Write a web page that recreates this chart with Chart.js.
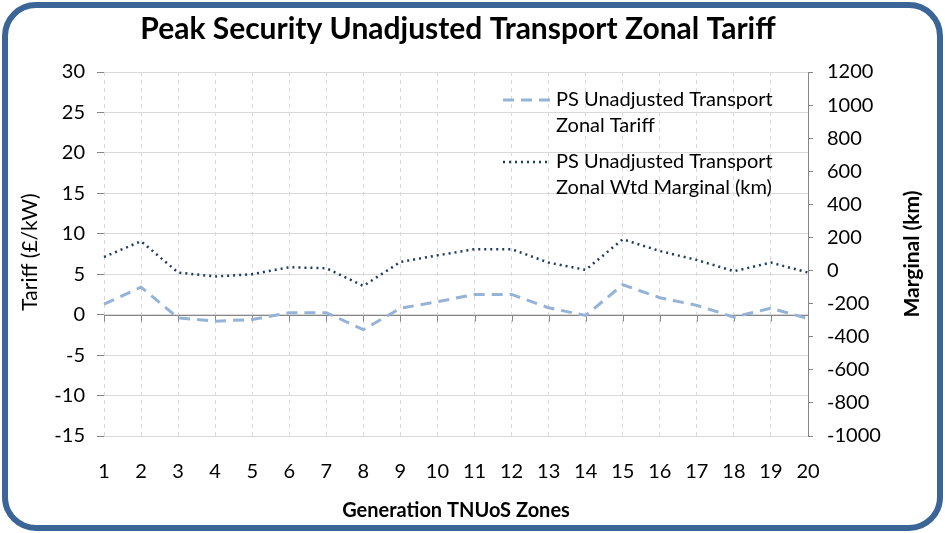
<!DOCTYPE html>
<html>
<head>
<meta charset="utf-8">
<script src="https://cdn.jsdelivr.net/npm/chart.js@4"></script>
<style>
  html, body { margin: 0; padding: 0; background: #fff; }
  #wrap { position: relative; width: 945px; height: 533px; }
  #frame {
    position: absolute; left: 2px; top: 2px; width: 929px; height: 517px;
    border: 6px solid #3A6596; border-radius: 34px; pointer-events: none;
  }
</style>
</head>
<body>
<div id="wrap">
  <canvas id="zonalChart" width="945" height="533"></canvas>
  <div id="frame"></div>
</div>
<script>
const zones = ['1','2','3','4','5','6','7','8','9','10','11','12','13','14','15','16','17','18','19','20'];
const tariffValues = [1.3, 3.4, -0.4, -0.8, -0.6, 0.25, 0.25, -1.85, 0.8, 1.6, 2.5, 2.5, 0.85, -0.1, 3.7, 2.1, 1.15, -0.3, 0.8, -0.5];
const marginalValues = [82, 177, -12, -36, -22, 20, 14, -93, 52, 92, 129, 129, 48, 4, 189, 118, 64, -4, 48, -12];
const seriesNames = [
    ['PS Unadjusted Transport', 'Zonal Tariff'],
    ['PS Unadjusted Transport', 'Zonal Wtd Marginal (km)']
];
const tariffRange = { min: -15, max: 30, step: 5 };
const marginalRange = { min: -1000, max: 1200, step: 200 };

const FONT = 'Lato, "Open Sans", sans-serif';

// title, zero line, legend and axis titles drawn by hand
const extras = {
    id: 'extras',
    beforeDatasetsDraw(chart) {
        const ctx = chart.ctx;
        const x = chart.scales.x, y = chart.scales.y;
        const y0 = Math.round(y.getPixelForValue(0)) + 0.5;
        ctx.save();
        ctx.strokeStyle = '#868686';
        ctx.lineWidth = 1;
        ctx.beginPath();
        ctx.moveTo(chart.chartArea.left, y0);
        ctx.lineTo(chart.chartArea.right, y0);
        zones.forEach((z, i) => {
            const px = Math.round(x.getPixelForValue(i)) + 0.5;
            ctx.moveTo(px, y0);
            ctx.lineTo(px, y0 + 6);
        });
        ctx.stroke();
        ctx.restore();
    },
    afterDraw(chart) {
        const ctx = chart.ctx;
        ctx.save();
        ctx.fillStyle = '#000';
        ctx.textAlign = 'center';
        ctx.textBaseline = 'middle';
        ctx.font = 'bold 30px ' + FONT;
        ctx.fillText('Peak Security Unadjusted Transport Zonal Tariff', 458, 29);

        ctx.font = 'bold 20px ' + FONT;
        ctx.fillText('Generation TNUoS Zones', 456, 511);

        ctx.save();
        ctx.font = '21px ' + FONT;
        ctx.translate(30, 252);
        ctx.rotate(-Math.PI / 2);
        ctx.fillText('Tariff (£/kW)', 0, 0);
        ctx.restore();

        ctx.font = 'bold 21px ' + FONT;
        ctx.translate(912, 254);
        ctx.rotate(-Math.PI / 2);
        ctx.fillText('Marginal (km)', 0, 0);
        ctx.restore();

        // legend
        ctx.save();
        ctx.font = '20px ' + FONT;
        ctx.textAlign = 'left';
        ctx.textBaseline = 'middle';
        chart.data.datasets.forEach((ds, i) => {
            const ly = 100 + i * 62;
            ctx.strokeStyle = ds.borderColor;
            ctx.lineWidth = ds.borderWidth;
            ctx.setLineDash(ds.borderDash);
            ctx.beginPath();
            ctx.moveTo(503, ly);
            ctx.lineTo(550, ly);
            ctx.stroke();
            ctx.setLineDash([]);
            ctx.fillStyle = '#000';
            seriesNames[i].forEach((line, j) => ctx.fillText(line, 556, ly + j * 26));
        });
        ctx.restore();
    }
};

new Chart(document.getElementById('zonalChart').getContext('2d'), {
    type: 'line',
    data: {
        labels: zones,
        datasets: [{
            label: seriesNames[0].join(' '),
            data: tariffValues,
            yAxisID: 'y',
            borderColor: '#95B3D7',
            borderWidth: 3,
            borderDash: [11, 7],
            pointRadius: 0,
            tension: 0,
            fill: false
        }, {
            label: seriesNames[1].join(' '),
            data: marginalValues,
            yAxisID: 'y1',
            borderColor: '#1F3A5F',
            borderWidth: 2.5,
            borderDash: [2, 4],
            pointRadius: 0,
            tension: 0,
            fill: false
        }]
    },
    options: {
        responsive: false,
        animation: false,
        layout: { padding: { top: 72, left: 0, right: 0, bottom: 0 } },
        plugins: { legend: { display: false }, title: { display: false }, tooltip: { enabled: false } },
        scales: {
            x: {
                offset: false,
                grid: { color: '#D9D9D9', drawTicks: false, tickLength: 0 },
                border: { display: false, dash: [4, 4] },
                ticks: { color: '#000', font: { family: FONT, size: 20 }, padding: 24, maxRotation: 0, autoSkip: false },
                afterFit(scale) { scale.height = 97; }
            },
            y: {
                position: 'left',
                min: tariffRange.min, max: tariffRange.max,
                grid: { color: '#D9D9D9', tickColor: '#868686', tickLength: 7 },
                border: { display: false },
                ticks: { stepSize: tariffRange.step, color: '#000', font: { family: FONT, size: 20 }, padding: 12 },
                afterFit(scale) { scale.width = 104; }
            },
            y1: {
                position: 'right',
                min: marginalRange.min, max: marginalRange.max,
                grid: { drawOnChartArea: false, color: '#868686', tickLength: 5 },
                border: { display: true, color: '#868686' },
                ticks: { stepSize: marginalRange.step, color: '#000', font: { family: FONT, size: 20 }, padding: 14,
                         callback: v => String(v) },
                afterFit(scale) { scale.width = 137; }
            }
        }
    },
    plugins: [extras]
});
</script>
</body>
</html>
